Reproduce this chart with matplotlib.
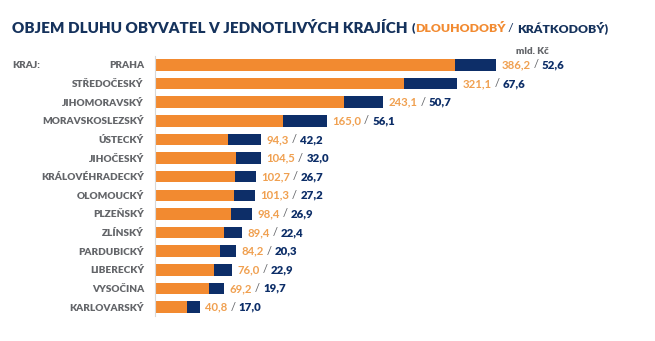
import matplotlib
matplotlib.use("Agg")
import matplotlib.pyplot as plt

regions = ["PRAHA", "STŘEDOČESKÝ", "JIHOMORAVSKÝ", "MORAVSKOSLEZSKÝ", "ÚSTECKÝ",
           "JIHOČESKÝ", "KRÁLOVÉHRADECKÝ", "OLOMOUCKÝ", "PLZEŇSKÝ", "ZLÍNSKÝ",
           "PARDUBICKÝ", "LIBERECKÝ", "VYSOČINA", "KARLOVARSKÝ"]
long_term = [386.2, 321.1, 243.1, 165.0, 94.3, 104.5, 102.7, 101.3, 98.4, 89.4,
             84.2, 76.0, 69.2, 40.8]
short_term = [52.6, 67.6, 50.7, 56.1, 42.2, 32.0, 26.7, 27.2, 26.9, 22.4,
              20.3, 22.9, 19.7, 17.0]

ORANGE = "#f28a30"
ORANGE_TXT = "#f0a050"
NAVY = "#0d2e68"
GREY = "#636569"
TITLE = "#15325c"

plt.rcParams['font.family'] = ['Lato', 'DejaVu Sans']

fig = plt.figure(figsize=(6.55, 3.41), dpi=100)
ax = fig.add_axes([155/655, 0.0724, 0.72, 0.7643])

y = list(range(len(regions)))
ax.barh(y, long_term, height=0.62, color=ORANGE, linewidth=0)
ax.barh(y, short_term, left=long_term, height=0.62, color=NAVY, linewidth=0)
ax.set_ylim(len(regions) - 0.5, -0.5)
ax.set_xlim(0, 607)

for s in ["top", "right", "bottom"]:
    ax.spines[s].set_visible(False)
ax.spines["left"].set_color("#d8d8d8")
ax.spines["left"].set_linewidth(0.8)
ax.set_xticks([])
ax.set_yticks(y)
ax.set_yticklabels(regions, fontsize=7.2, fontweight="heavy", color=GREY)
ax.tick_params(axis="y", length=0, pad=8)

fs = 8.2
for i, (l, s) in enumerate(zip(long_term, short_term)):
    t1 = ax.annotate(f"{l:.1f}".replace(".", ","), xy=(l + s, i), xytext=(4, 0),
                     textcoords="offset points", va="center", ha="left",
                     fontsize=fs, fontweight="bold", color=ORANGE_TXT)
    t2 = ax.annotate(" / ", xy=(1, 0.5), xycoords=t1, va="center", ha="left",
                     fontsize=fs, color=GREY)
    ax.annotate(f"{s:.1f}".replace(".", ","), xy=(1, 0.5), xycoords=t2,
                va="center", ha="left", fontsize=fs, fontweight="heavy", color=NAVY)

fig.text(12/655, 1 - 66/341, "KRAJ:", fontsize=7.2, fontweight="heavy", color=GREY,
         va="center", ha="left")
fig.text(532/655, 1 - 52/341, "mld. Kč", fontsize=7, fontweight="heavy", color=GREY,
         va="center", ha="center")

tt = fig.text(12/655, 1 - 28/341, "OBJEM DLUHU OBYVATEL V JEDNOTLIVÝCH KRAJÍCH ",
              fontsize=10.9, fontweight="heavy", color=TITLE, va="center", ha="left")
p1 = ax.annotate("(", xy=(1, 0.5), xycoords=tt, va="center", ha="left",
                 fontsize=8.8, fontweight="heavy", color=TITLE, annotation_clip=False)
p2 = ax.annotate("DLOUHODOBÝ", xy=(1, 0.5), xycoords=p1, va="center", ha="left",
                 fontsize=8.8, fontweight="heavy", color=ORANGE, annotation_clip=False)
p3 = ax.annotate(" / ", xy=(1, 0.5), xycoords=p2, va="center", ha="left",
                 fontsize=8.8, color=TITLE, annotation_clip=False)
ax.annotate("KRÁTKODOBÝ)", xy=(1, 0.5), xycoords=p3, va="center", ha="left",
            fontsize=8.8, fontweight="heavy", color=TITLE, annotation_clip=False)

fig.savefig("out.png", dpi=100, facecolor="white")
